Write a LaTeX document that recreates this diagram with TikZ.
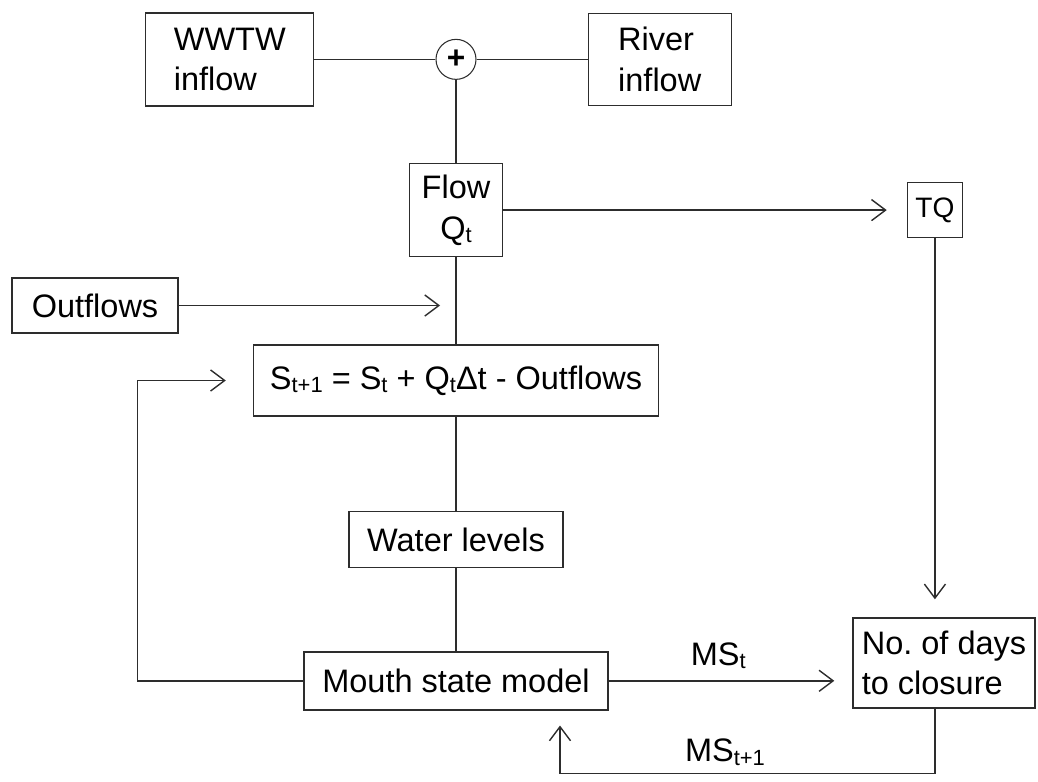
\documentclass[tikz,border=0pt]{standalone}
\usepackage{fontspec}
\setmainfont{Liberation Sans}
\usetikzlibrary{arrows.meta, positioning, calc}
\definecolor{lineDark}{RGB}{45, 45, 45}
\newcommand{\lowidx}[1]{\raisebox{-0.2ex}{\fontsize{12.5}{12.5}\selectfont #1}}

\begin{document}
\begin{tikzpicture}[
    node distance=1.7cm and 2.4cm,
    font=\fontsize{18.5}{23}\selectfont,
    block/.style={
        rectangle,
        draw=lineDark,
        line width=0.8pt,
        fill=white,
        inner sep=2pt,
        align=center,
        text=black
    },
    sumnode/.style={
        circle,
        draw=lineDark,
        line width=0.6pt,
        minimum size=0.8cm,
        inner sep=0pt,
        font=\fontsize{18}{20}\bfseries
    },
    link/.style={
        draw=lineDark,
        line width=0.8pt
    },
    arrow/.style={
        link,
        -{Straight Barb[length=8pt, width=12pt]}
    },
    lbl/.style={
        font=\fontsize{18.5}{23}\selectfont
    }
]
\useasboundingbox (0,0) rectangle (20.76,-15.62);

% Storage balance and the main chain
\node[block, minimum width=8.1cm, minimum height=1.42cm] (balance) at (9.12,-7.61) {S\lowidx{t+1} = S\lowidx{t} + Q\lowidx{t}Δt - Outflows};
\node[block, minimum width=1.86cm, minimum height=1.86cm, above=1.74cm of balance] (flow) {Flow\\Q\lowidx{t}};
\node[sumnode, above=1.66cm of flow] (plus) {+};
\node[block, align=left, minimum width=3.36cm, minimum height=1.86cm, left=2.42cm of plus] (wwtw) {WWTW\\inflow};
\node[block, align=left, minimum width=2.86cm, minimum height=1.84cm, right=2.22cm of plus] (river) {River\\inflow};
\node[block, minimum width=4.28cm, minimum height=1.12cm, below=1.88cm of balance] (levels) {Water levels};
\node[block, minimum width=6.08cm, minimum height=1.16cm, below=1.66cm of levels] (mouth) {Mouth state model};

% Side boxes
\node[block, minimum width=1.1cm, minimum height=1.1cm, right=8.07cm of flow, font=\fontsize{16}{19}\selectfont] (tq) {TQ};
\node[block, minimum width=3.32cm, minimum height=1.1cm] (outflows) at (1.90,-6.11) {Outflows};
\node[block, align=left, minimum width=3.64cm, minimum height=1.8cm] (closure) at (18.88,-13.26) {No.\ of days\\to closure};

% Plain links
\draw[link] (wwtw.east |- plus) -- (plus);
\draw[link] (plus) -- (river.west |- plus);
\draw[link] (plus) -- (flow);
\draw[link] (flow) -- (balance);
\draw[link] (balance) -- (levels);
\draw[link] (levels) -- (mouth);

% Arrows
\draw[arrow, shorten >=0.4cm] (flow) -- (tq);
\draw[arrow, shorten >=0.32cm] (outflows) -- (outflows -| flow);
\draw[arrow, shorten >=0.36cm] (tq) -- (tq |- closure.north);
\draw[arrow, shorten >=0.36cm] (mouth) -- node[lbl, above=3pt, pos=0.45] {MS\lowidx{t}} (mouth -| closure.west);
\draw[arrow, shorten >=0.3cm] (tq |- closure.south) -- ++(0,-1.3) -| node[lbl, above=1pt, pos=0.28] {MS\lowidx{t+1}} ([xshift=2.08cm]mouth.south);
\draw[arrow, shorten >=0.54cm] (mouth.west) -- ++(-3.32,0) |- (balance.west);

\end{tikzpicture}
\end{document}
